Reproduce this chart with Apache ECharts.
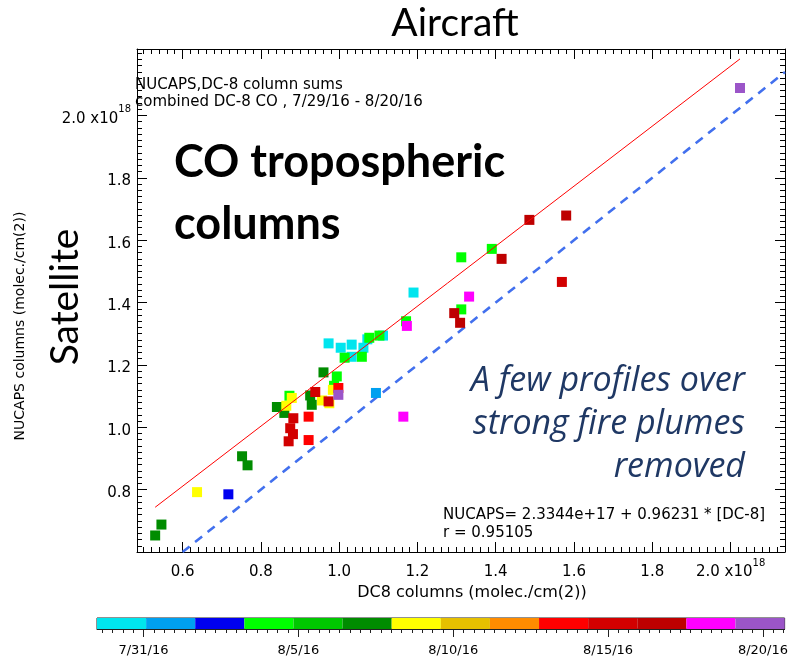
<!DOCTYPE html>
<html>
<head>
<meta charset="utf-8">
<script src="https://cdn.jsdelivr.net/npm/echarts@6/dist/echarts.min.js"></script>
<style>
  html, body { margin: 0; padding: 0; background: #fff; }
  #chart { width: 791px; height: 660px; }
</style>
</head>
<body>
<div id="chart"></div>
<script>
// One colour per flight group, earliest flight first
const dayColors = ['#00e5ee', '#00a0f0', '#0000f0', '#00ff00', '#00c800', '#008c00', '#ffff00',
                   '#e6c000', '#ff8c00', '#ff0000', '#d20000', '#be0000', '#ff00ff', '#9b55c8'];

// DC-8 column sums (1e18 molec/cm2)
const dc8 = [
  1.190, 1.112, 1.072, 1.062, 1.032, 1.004, 1.032, 0.973,
  1.094,
  0.717,
  1.390, 1.312, 1.171, 1.312, 1.103, 1.077, 1.014, 1.058, 0.994, 0.987, 0.873,
  0.960, 0.926, 0.930, 0.841, 0.860, 0.752, 0.766, 0.546, 0.530,
  0.984, 0.956, 0.975, 0.879, 0.865, 0.637,
  0.998, 0.922, 0.922,
  1.569, 0.939, 0.973, 0.883, 0.875, 0.882, 0.871,
  1.580, 1.486, 1.415, 1.294, 1.309,
  1.332, 1.173, 1.164,
  2.024, 0.998
];
// NUCAPS column sums at the same profiles (1e18 molec/cm2)
const nucaps = [
  1.432, 1.294, 1.282, 1.255, 1.265, 1.255, 1.226, 1.269,
  1.110,
  0.785,
  1.572, 1.545, 1.340, 1.378, 1.294, 1.287, 1.223, 1.226, 1.163, 1.133, 1.101,
  1.176, 1.102, 1.072, 1.065, 1.046, 0.907, 0.878, 0.688, 0.653,
  1.120, 1.086, 1.077, 1.094, 1.069, 0.792,
  1.126, 1.034, 0.959,
  1.466, 1.113, 1.083, 1.029, 0.997, 0.978, 0.955,
  1.679, 1.665, 1.540, 1.366, 1.335,
  1.419, 1.325, 1.034,
  2.088, 1.104
];
// flight group (index into dayColors) of each profile
const flightGroup = [
  0, 0, 0, 0, 0, 0, 0, 0,
  1,
  2,
  3, 3, 3, 3, 3, 3, 3, 3, 3, 3, 3,
  5, 5, 5, 5, 5, 5, 5, 5, 5,
  6, 6, 6, 6, 6, 6,
  9, 9, 9,
  10, 10, 10, 10, 10, 10, 10,
  11, 11, 11, 11, 11,
  12, 12, 12,
  13, 13
];

// Linear fit printed on the plot: NUCAPS = a + b * DC8
const fitIntercept = 0.23344;   // 2.3344e+17
const fitSlope = 0.96231;
const fitR = 0.95105;

// Axis extents and labelled ticks (1e18 molec/cm2)
const xRange = [0.4836, 2.139];
const yRange = [0.6, 2.213];
const majorTicks = [0.6, 0.8, 1.0, 1.2, 1.4, 1.6, 1.8, 2.0];
const xTickLabels = [0.6, 0.8, 1.0, 1.2, 1.4, 1.6, 1.8, 2.0];
const yTickLabels = [0.8, 1.0, 1.2, 1.4, 1.6, 1.8, 2.0];
const minorStep = 0.02;

// Colour bar: days after 7/31/16
const barRange = [-1.5, 20.7];
const barTickDays = [0, 5, 10, 15, 20];
const barTickLabels = ['7/31/16', '8/5/16', '8/10/16', '8/15/16', '8/20/16'];
const barMinorStep = 1 / 3;

const FONT = 'DejaVu Sans';

function stepValues(range, step) {
  const out = [];
  for (let k = Math.ceil(range[0] / step - 1e-9); k * step <= range[1] + 1e-9; k++) {
    out.push(+(k * step).toFixed(6));
  }
  return out;
}
const xMinor = stepValues(xRange, minorStep);
const yMinor = stepValues(yRange, minorStep);
const barMinor = stepValues(barRange, barMinorStep);

function tickLabel(v) {
  if (Math.abs(v - 2.0) < 1e-6) return '{n|2.0 x10}{s|18}';
  return '{n|' + v.toFixed(1) + '}';
}
const richLabel = {
  n: { fontSize: 15, fontFamily: FONT, color: '#000', verticalAlign: 'bottom', lineHeight: 22 },
  s: { fontSize: 10, fontFamily: FONT, color: '#000', verticalAlign: 'top', lineHeight: 22 }
};

function mainAxis(pos, range, ticks, len, labels, line) {
  const ax = {
    type: 'value', gridIndex: 0, position: pos, min: range[0], max: range[1],
    axisLine: { show: line, onZero: false, lineStyle: { color: '#000', width: 1 } },
    axisTick: { show: true, inside: true, length: len, customValues: ticks,
                lineStyle: { color: '#000', width: 1 } },
    axisLabel: { show: false },
    splitLine: { show: false }
  };
  if (labels) {
    ax.axisLabel = {
      show: true, customValues: labels, formatter: tickLabel, rich: richLabel,
      margin: 6, color: '#000'
    };
  }
  return ax;
}

const scatterData = dc8.map((x, i) => [x, nucaps[i], flightGroup[i]]);
const xLo = Math.min.apply(null, dc8), xHi = Math.max.apply(null, dc8);
const fitLine = [[xLo, fitIntercept + fitSlope * xLo], [xHi, fitIntercept + fitSlope * xHi]];
const oneToOne = [[yRange[0], yRange[0]], [xRange[1], xRange[1]]];

const nSeg = dayColors.length;
const segW = (barRange[1] - barRange[0]) / nSeg;
const barSegments = dayColors.map((c, i) => [barRange[0] + i * segW, barRange[0] + (i + 1) * segW, i]);

const chart = echarts.init(document.getElementById('chart'), null, { renderer: 'canvas' });

const txt = (x, y, text, o) => ({
  type: 'text', x: x, y: y, rotation: o.rotation || 0, z: 100,
  style: Object.assign({
    text: text, fill: '#000', fontFamily: FONT, fontSize: 15,
    textAlign: 'left', textVerticalAlign: 'middle'
  }, o.style)
});
const noteStyle = { fontFamily: 'Open Sans', fontStyle: 'italic', fontSize: 34,
                    fill: '#1f3864', textAlign: 'right' };
const headStyle = { fontFamily: 'Lato', fontWeight: 'bold', fontSize: 45 };

chart.setOption({
  animation: false,
  grid: [
    { left: 137, top: 49, width: 648, height: 503, show: false },
    { left: 97, top: 618, width: 690, height: 11, show: true, borderColor: '#222',
      borderWidth: 1, backgroundColor: 'transparent' }
  ],
  xAxis: [
    mainAxis('bottom', xRange, majorTicks, 10, xTickLabels, true),
    mainAxis('bottom', xRange, xMinor, 5, null, false),
    mainAxis('top', xRange, majorTicks, 10, null, true),
    mainAxis('top', xRange, xMinor, 5, null, false),
    {
      type: 'value', gridIndex: 1, position: 'bottom', min: barRange[0], max: barRange[1],
      axisLine: { show: true, lineStyle: { color: '#222', width: 1 } },
      axisTick: { show: true, inside: false, length: 8, customValues: barTickDays,
                  lineStyle: { color: '#222' } },
      axisLabel: { show: true, customValues: barTickDays, margin: 15, color: '#000',
                   fontFamily: FONT, fontSize: 13,
                   formatter: v => barTickLabels[barTickDays.indexOf(Math.round(v))] || '' },
      splitLine: { show: false }
    },
    {
      type: 'value', gridIndex: 1, position: 'bottom', min: barRange[0], max: barRange[1],
      axisLine: { show: false },
      axisTick: { show: true, inside: false, length: 4, customValues: barMinor,
                  lineStyle: { color: '#222' } },
      axisLabel: { show: false }, splitLine: { show: false }
    }
  ],
  yAxis: [
    mainAxis('left', yRange, majorTicks, 10, yTickLabels, true),
    mainAxis('left', yRange, yMinor, 5, null, false),
    mainAxis('right', yRange, majorTicks, 10, null, true),
    mainAxis('right', yRange, yMinor, 5, null, false),
    { type: 'value', gridIndex: 1, min: 0, max: 1, show: false }
  ],
  series: [
    {
      type: 'line', xAxisIndex: 0, yAxisIndex: 0, data: oneToOne, symbol: 'none', clip: true,
      lineStyle: { color: '#4270ee', width: 2.6, type: [9, 7] }, z: 2
    },
    {
      type: 'line', xAxisIndex: 0, yAxisIndex: 0, data: fitLine, symbol: 'none', clip: true,
      lineStyle: { color: '#ff0000', width: 1 }, z: 4
    },
    {
      type: 'scatter', xAxisIndex: 0, yAxisIndex: 0, data: scatterData, symbol: 'rect',
      symbolSize: 10, z: 3,
      itemStyle: { color: p => dayColors[p.value[2]], opacity: 1 }
    },
    {
      type: 'custom', xAxisIndex: 4, yAxisIndex: 4, data: barSegments,
      renderItem: (params, api) => {
        const a = api.coord([api.value(0), 0]);
        const b = api.coord([api.value(1), 1]);
        return { type: 'rect', shape: { x: a[0], y: b[1], width: b[0] - a[0], height: a[1] - b[1] },
                 style: { fill: dayColors[api.value(2)] } };
      }
    }
  ],
  graphic: [
    txt(455, 23, 'Aircraft', { style: { fontFamily: 'Lato', fontSize: 39, textAlign: 'center' } }),
    txt(65, 297, 'Satellite', { rotation: Math.PI / 2,
        style: { fontFamily: 'Lato', fontSize: 39, textAlign: 'center' } }),
    txt(20, 326, 'NUCAPS columns (molec./cm(2))', { rotation: Math.PI / 2,
        style: { fontSize: 14, textAlign: 'center' } }),
    txt(135, 85, 'NUCAPS,DC-8 column sums', { style: {} }),
    txt(135, 102, 'combined DC-8 CO , 7/29/16 - 8/20/16', { style: {} }),
    txt(174, 162, 'CO tropospheric', { style: headStyle }),
    txt(174, 224, 'columns', { style: headStyle }),
    txt(745, 381, 'A few profiles over', { style: noteStyle }),
    txt(745, 424, 'strong fire plumes', { style: noteStyle }),
    txt(745, 467, 'removed', { style: noteStyle }),
    txt(443, 515, 'NUCAPS= ' + (fitIntercept * 10).toFixed(4) + 'e+17 + ' + fitSlope.toFixed(5) + ' * [DC-8]',
        { style: {} }),
    txt(443, 533, 'r = ' + fitR.toFixed(5), { style: {} }),
    txt(472, 593, 'DC8 columns (molec./cm(2))', { style: { fontSize: 16, textAlign: 'center' } })
  ]
});
</script>
</body>
</html>
